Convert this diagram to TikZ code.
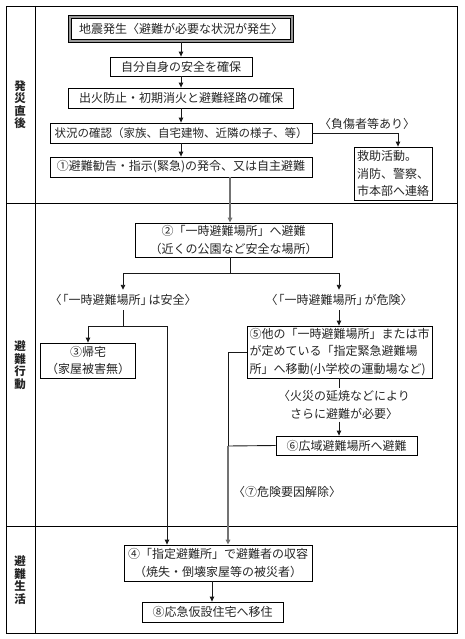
\documentclass[tikz,border=0pt]{standalone}
\usepackage{fontspec}
\setmainfont{Noto Sans CJK JP}
\usetikzlibrary{arrows.meta}
\begin{document}
\begin{tikzpicture}[x=1pt,y=-1pt,
  every node/.style={font=\fontsize{12}{17.5}\selectfont, text=black!85},
  box/.style={draw=black, line width=0.8pt, inner sep=0pt, align=center, fill=white},
  lbl/.style={inner sep=0pt, align=center, minimum height=20},
  conn/.style={draw=black!90, line width=0.9pt},
  arr/.style={conn, -{Triangle[length=5pt,width=4.5pt]}},
  garr/.style={draw=black!55, line width=1.3pt, -{Triangle[length=5pt,width=4.5pt]}},
  sect/.style={inner sep=0pt, align=center, font=\fontsize{11.5}{12.5}\selectfont\bfseries}]
\useasboundingbox (0,0) rectangle (465,639);
% table frame
\draw[line width=0.9pt] (6,6) rectangle (457,633);
\draw[line width=0.9pt] (35,6) -- (35,633);
\draw[line width=0.9pt] (6,203) -- (457,203);
\draw[line width=0.9pt] (6,526) -- (457,526);
\node[sect] (s1) at (20,104.5) {発\\災\\直\\後};
\node[sect] (s2) at (20,365) {避\\難\\行\\動};
\node[sect] (s3) at (20,580) {避\\難\\生\\活};
% section 1
\node[box, fill=black!40, minimum width=225, minimum height=27] (b1o) at (181,28.5) {};
\node[box, minimum width=219, minimum height=21] (b1) at (181,28.5) {地震発生〈避難が必要な状況が発生〉};
\node[box, minimum width=142, minimum height=19] (b2) at (181,66.5) {自分自身の安全を確保};
\node[box, minimum width=225, minimum height=20] (b3) at (181,98) {出火防止・初期消火と避難経路の確保};
\node[box, minimum width=262, minimum height=20, font=\fontsize{11.5}{17.5}\selectfont] (b4) at (181,133) {状況の確認（家族、自宅建物、近隣の様子、等）};
\node[box, minimum width=262, minimum height=20] (b5) at (181,167) {①避難勧告・指示(緊急)の発令、又は自主避難};
\node[box, minimum width=78, minimum height=53, align=left] (b6) at (393,173.5) {救助活動。\\消防、警察、\\市本部へ連絡};
\node[lbl] (l1) at (367,124) {〈負傷者等あり〉};
% section 2
\node[box, minimum width=197, minimum height=34] (b7) at (233.5,240) {②「一時避難場所」へ避難\\（近くの公園など安全な場所）};
\node[lbl] (lsafe) at (123,300) {〈\kern-5pt「一時避難場所」\kern-4pt は安全〉};
\node[lbl] (ldanger) at (339,300) {〈\kern-5pt「一時避難場所」\kern-4pt が危険〉};
\node[box, minimum width=95, minimum height=35] (b8) at (88,360.5) {③帰宅\\（家屋被害無）};
\node[box, minimum width=185, minimum height=52, align=left] (b9) at (339.5,352) {⑤他の「一時避難場所」または市\\が定めている「指定緊急避難場\\所」へ移動(小学校の運動場など)};
\node[inner sep=2pt, align=center] (lfire) at (344,405) {〈火災の延焼などにより\\さらに避難が必要〉};
\node[box, minimum width=141, minimum height=19] (b10) at (346.5,445.5) {⑥広域避難場所へ避難};
\node[lbl, anchor=west] (l7) at (233,492) {〈⑦危険要因解除〉};
% section 3
\node[box, minimum width=188, minimum height=36] (b11) at (218,563) {④「指定避難所」で避難者の収容\\（焼失・倒壊家屋等の被災者）};
\node[box, minimum width=141, minimum height=20] (b12) at (212.5,612) {⑧応急仮設住宅へ移住};
% coordinates
\coordinate (xa) at (230,0);
\coordinate (xb) at (398,0);
\coordinate (xd) at (167,0);
\coordinate (xf) at (212,0);
\coordinate (sp1) at (230,273);
\coordinate (sp2) at (123,326);
\coordinate (j3) at (228,446);
% connectors
\draw[arr] (b1o.south) -- (b2.north);
\draw[arr] (b2.south) -- (b3.north);
\draw[arr] (b3.south) -- (b4.north);
\draw[arr] (b4.south) -- (b5.north);
\draw[arr] (b4.east) -| (b6.north -| xb);
\draw[garr] (b5.south -| xa) -- (b7.north -| xa);
\draw[conn] (b7.south -| xa) -- (sp1);
\draw[arr] (sp1) -| (lsafe.north);
\draw[arr] (sp1) -| (ldanger.north);
\draw[conn] (lsafe.south) -- (sp2);
\draw[arr] (sp2) -| (b8.north);
\draw[arr] (sp2) -| (b11.north -| xd);
\draw[arr] (ldanger.south) -- (b9.north -| ldanger.south);
\draw[conn] (b9.south -| ldanger.south) -- (lfire.north -| ldanger.south);
\draw[arr] (lfire.south -| ldanger.south) -- (b10.north -| ldanger.south);
\draw[conn] (b9.west) -| (j3);
\draw[conn] (b10.west) -- (j3);
\draw[garr] (j3) -- (b11.north -| j3);
\draw[arr] (b11.south -| xf) -- (b12.north -| xf);
\end{tikzpicture}
\end{document}
